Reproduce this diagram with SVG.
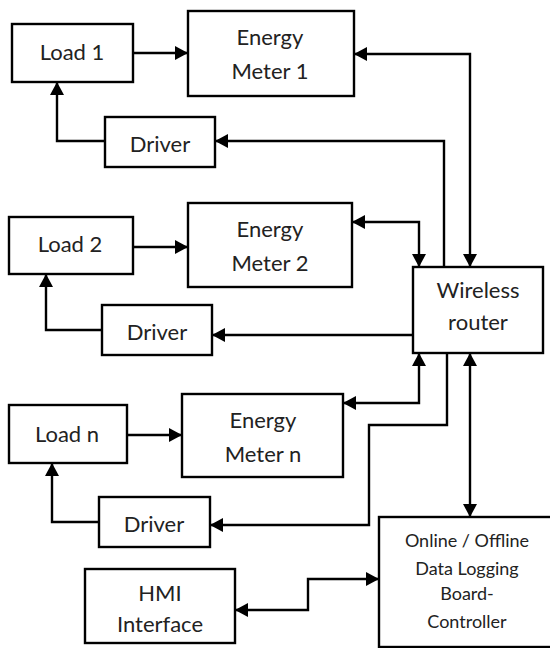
<svg xmlns="http://www.w3.org/2000/svg" width="550" height="648" viewBox="0 0 550 648">
<defs>
<style>
.box{fill:#fff;stroke:#000;stroke-width:2.4}
.lbl{font-family:Lato,"Liberation Sans",sans-serif;font-size:22px;fill:#222;text-anchor:middle}
.sm{font-size:18px}
.conn path{fill:none;stroke:#000;stroke-width:2.4}
</style>
<marker id="ah" markerUnits="userSpaceOnUse" markerWidth="14" markerHeight="14" refX="13" refY="7" orient="auto-start-reverse"><path d="M0,0 L13,7 L0,14 z" fill="#000"/></marker>
</defs>
<rect width="550" height="648" fill="#fff"/>
<g class="conn" id="connectors">
<path d="M133,53 H188" marker-end="url(#ah)"/>
<path d="M470,267 V54 H354" marker-start="url(#ah)" marker-end="url(#ah)"/>
<path d="M444,267 V141 H215" marker-end="url(#ah)"/>
<path d="M105,141 H57 V82" marker-end="url(#ah)"/>
<path d="M133,247 H188" marker-end="url(#ah)"/>
<path d="M352,222 H419 V267" marker-start="url(#ah)" marker-end="url(#ah)"/>
<path d="M413,335 H212" marker-end="url(#ah)"/>
<path d="M102,330 H46 V274" marker-end="url(#ah)"/>
<path d="M127,435 H182" marker-end="url(#ah)"/>
<path d="M419,353 V403 H343" marker-start="url(#ah)" marker-end="url(#ah)"/>
<path d="M447,353 V425 H369 V525 H210" marker-end="url(#ah)"/>
<path d="M99,522 H52 V463" marker-end="url(#ah)"/>
<path d="M470,353 V517" marker-start="url(#ah)" marker-end="url(#ah)"/>
<path d="M235,610 H308 V579 H379" marker-start="url(#ah)" marker-end="url(#ah)"/>
</g>
<g id="load1"><rect class="box" x="12" y="24" width="121" height="58"/><text class="lbl" x="72" y="60">Load 1</text></g>
<g id="em1"><rect class="box" x="188" y="11" width="166" height="85"/><text class="lbl" x="270" y="45">Energy</text><text class="lbl" x="270" y="79">Meter 1</text></g>
<g id="drv1"><rect class="box" x="105" y="117" width="110" height="50"/><text class="lbl" x="160" y="152">Driver</text></g>
<g id="load2"><rect class="box" x="9" y="217" width="124" height="57"/><text class="lbl" x="70" y="252">Load 2</text></g>
<g id="em2"><rect class="box" x="188" y="203" width="164" height="84"/><text class="lbl" x="270" y="237">Energy</text><text class="lbl" x="270" y="271">Meter 2</text></g>
<g id="drv2"><rect class="box" x="102" y="305" width="110" height="50"/><text class="lbl" x="157" y="340">Driver</text></g>
<g id="router"><rect class="box" x="413" y="267" width="130" height="86"/><text class="lbl" x="478" y="298">Wireless</text><text class="lbl" x="478" y="330">router</text></g>
<g id="loadn"><rect class="box" x="9" y="405" width="118" height="58"/><text class="lbl" x="67" y="442">Load n</text></g>
<g id="emn"><rect class="box" x="182" y="394" width="161" height="83"/><text class="lbl" x="263" y="428">Energy</text><text class="lbl" x="263" y="462">Meter n</text></g>
<g id="drvn"><rect class="box" x="99" y="497" width="111" height="50"/><text class="lbl" x="154" y="532">Driver</text></g>
<g id="hmi"><rect class="box" x="85" y="569" width="150" height="74"/><text class="lbl" x="160" y="601">HMI</text><text class="lbl" x="160" y="632">Interface</text></g>
<g id="ctrl"><rect class="box" x="379" y="517" width="173" height="130"/><text class="lbl sm" x="467" y="547">Online / Offline</text><text class="lbl sm" x="467" y="575">Data Logging</text><text class="lbl sm" x="467" y="600">Board-</text><text class="lbl sm" x="467" y="628">Controller</text></g>
</svg>
